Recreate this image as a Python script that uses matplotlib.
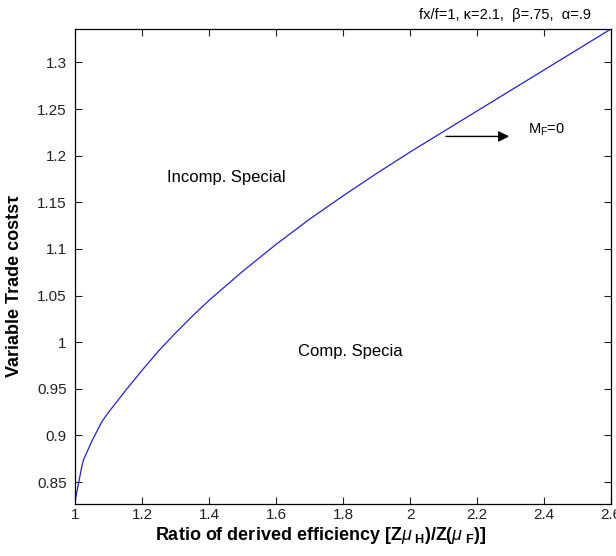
import matplotlib
matplotlib.use('Agg')
import matplotlib.pyplot as plt

plt.rcParams['font.family'] = ['Liberation Sans', 'DejaVu Sans']
plt.rcParams['mathtext.fontset'] = 'custom'
plt.rcParams['mathtext.rm'] = 'Liberation Sans'
plt.rcParams['mathtext.it'] = 'Liberation Sans:italic'
plt.rcParams['mathtext.bf'] = 'Liberation Sans:bold'

# ratio of derived efficiency vs. variable trade cost (threshold curve)
ratio = [1.0, 1.02, 1.025, 1.05, 1.08, 1.1, 1.15, 1.2, 1.25, 1.3, 1.35, 1.4, 1.5,
         1.6, 1.7, 1.8, 1.9, 2.0, 2.1, 2.2, 2.3, 2.4, 2.5, 2.6]
tau = [0.830, 0.867, 0.874, 0.894, 0.915, 0.925, 0.948, 0.970, 0.991, 1.010, 1.028, 1.045, 1.076,
       1.105, 1.132, 1.157, 1.181, 1.204, 1.226, 1.248, 1.270, 1.292, 1.314, 1.336]

xticks = [1, 1.2, 1.4, 1.6, 1.8, 2, 2.2, 2.4, 2.6]
xticklabels = ['1', '1.2', '1.4', '1.6', '1.8', '2', '2.2', '2.4', '2.6']
yticks = [0.85, 0.9, 0.95, 1, 1.05, 1.1, 1.15, 1.2, 1.25, 1.3]
yticklabels = ['0.85', '0.9', '0.95', '1', '1.05', '1.1', '1.15', '1.2', '1.25', '1.3']

fig = plt.figure(figsize=(6.16, 5.56), dpi=100)
ax = fig.add_axes([0.122, 0.0935, 0.87, 0.8545])

ax.plot(ratio, tau, color='#2222c8', lw=0.9)

ax.set_xlim(1, 2.6)
ax.set_ylim(0.8265, 1.336)
ax.set_xticks(xticks)
ax.set_xticklabels(xticklabels)
ax.set_yticks(yticks)
ax.set_yticklabels(yticklabels)
ax.tick_params(direction='in', top=True, right=True, length=5, width=0.8,
               labelsize=11, colors='#222222')
ax.tick_params(axis='x', pad=3)
ax.tick_params(axis='y', pad=6)
for s in ax.spines.values():
    s.set_linewidth(0.9)

ax.set_xlabel(r'Ratio of derived efficiency [Z$\mu_{\ \mathbf{H}}$)/Z($\mu_{\ \mathbf{F}}$)]',
              fontsize=13, fontweight='bold')
ax.xaxis.set_label_coords(0.459, -0.045)
ax.set_ylabel('Variable Trade costsτ', fontsize=13, fontweight='bold')
ax.yaxis.set_label_coords(-0.097, 0.46)

ax.text(1.275, 1.177, 'Incomp. Special', fontsize=12, va='center')
ax.text(1.666, 0.990, 'Comp. Specia', fontsize=12, va='center')
ax.annotate('', xy=(2.304, 1.2207), xytext=(2.099, 1.2207),
            arrowprops=dict(arrowstyle='-|>', color='black', lw=1,
                            mutation_scale=16))
ax.text(2.352, 1.228, r'M$_{\rm F}$=0', fontsize=10.5, va='center')

fig.text(505 / 616, 1 - 15 / 556, 'fx/f=1, κ=2.1,  β=.75,  α=.9',
         fontsize=10.5, ha='center', va='center')

fig.savefig('out.png', dpi=100)
